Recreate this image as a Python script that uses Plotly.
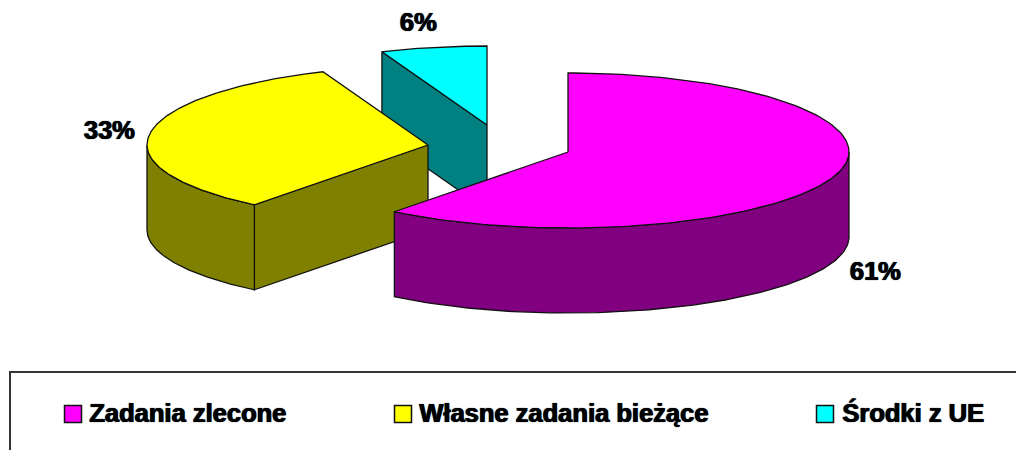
import numpy as np
import plotly.graph_objects as go

categories = ["Zadania zlecone", "Własne zadania bieżące", "Środki z UE"]
values = [60.6, 33.3, 6.1]
top_colors = ["#FF00FF", "#FFFF00", "#00FFFF"]
side_colors = ["#800080", "#808000", "#008080"]

# layout of the projected pie (pixels of the 1016x450 canvas)
centers = [(568, 152), (428, 145), (487, 125)]
RX, RY_BACK, RY_FRONT, DEPTH = 281, 79, 76, 85
label_pos = [(875, 274), (109, 133), (418, 25)]
swatch_x = [73, 403, 825]
text_x = [89, 419, 842]
SWATCH_Y = 414
TEXT_Y = 416
FONT = "Liberation Sans"
FONT_SIZE = 25.5
LINE = "#111111"
HEAVY = "1px 0 0 #000000, 0 0 1px #000000"

fig = go.Figure()


def poly(xs, ys, color):
    fig.add_trace(go.Scatter(x=list(xs) + [xs[0]], y=list(ys) + [ys[0]], mode="lines",
                             fill="toself", fillcolor=color, hoverinfo="skip",
                             line=dict(color=LINE, width=1.3), showlegend=False))


def rim(c, t):
    cos_t = np.cos(t)
    return c[0] + RX * np.sin(t), c[1] - np.where(cos_t >= 0, RY_BACK, RY_FRONT) * cos_t


edges = np.cumsum([0] + values) / sum(values) * 2 * np.pi
for i in [2, 1, 0]:
    c, a, b = centers[i], edges[i], edges[i + 1]
    ts = np.linspace(a, b, 160)
    ox, oy = rim(c, ts)
    # radial wall seen from the front (yellow and cyan slices only)
    if i in (1, 2):
        ex, ey = rim(c, a)
        poly([c[0], float(ex), float(ex), c[0]],
             [c[1], float(ey), float(ey) + DEPTH, c[1] + DEPTH], side_colors[i])
    # outer wall: the part of the rim facing the viewer
    lo, hi = max(a, np.pi / 2), min(b, 3 * np.pi / 2)
    if hi > lo:
        ws = np.linspace(lo, hi, 120)
        wx, wy = rim(c, ws)
        poly(list(wx) + list(wx[::-1]), list(wy) + list((wy + DEPTH)[::-1]), side_colors[i])
    poly([c[0]] + list(ox), [c[1]] + list(oy), top_colors[i])

# data labels
for i in range(3):
    fig.add_trace(go.Scatter(x=[label_pos[i][0]], y=[label_pos[i][1]], mode="text",
                             text=[f"{values[i]:.0f}%"], hoverinfo="skip", showlegend=False,
                             textfont=dict(family=FONT, size=FONT_SIZE, color="#000000", weight="bold",
                                           shadow=HEAVY)))

# legend frame
fig.add_trace(go.Scatter(x=[10, 10, 1016], y=[450, 372, 372], mode="lines", hoverinfo="skip",
                         line=dict(color="#333333", width=2), showlegend=False))
# legend entries
for i in range(3):
    fig.add_trace(go.Scatter(x=[swatch_x[i]], y=[SWATCH_Y], mode="markers", hoverinfo="skip", showlegend=False,
                             marker=dict(symbol="square", size=17, color=top_colors[i],
                                         line=dict(color="#111111", width=1.5))))
    fig.add_trace(go.Scatter(x=[text_x[i]], y=[TEXT_Y], mode="text", text=[categories[i]],
                             textposition="middle right", hoverinfo="skip", showlegend=False,
                             textfont=dict(family=FONT, size=FONT_SIZE, color="#000000", weight="bold",
                                           shadow=HEAVY)))

fig.update_layout(width=1016, height=450, margin=dict(l=0, r=0, t=0, b=0),
                  paper_bgcolor="white", plot_bgcolor="white", showlegend=False,
                  xaxis=dict(range=[0, 1016], visible=False, fixedrange=True),
                  yaxis=dict(range=[450, 0], visible=False, fixedrange=True))
fig.write_html("out.html", config=dict(displayModeBar=False),
               post_script="document.body.style.margin='0';document.body.style.overflow='hidden';")
